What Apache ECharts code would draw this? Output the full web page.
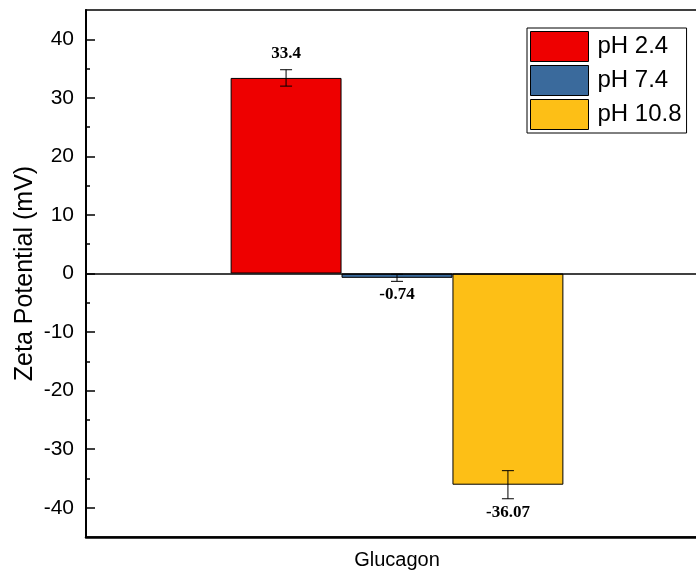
<!DOCTYPE html>
<html>
<head>
<meta charset="utf-8">
<script src="https://cdn.jsdelivr.net/npm/echarts@6/dist/echarts.min.js"></script>
<style>html,body{margin:0;padding:0;background:#fff}#c{width:696px;height:571px}</style>
</head>
<body>
<div id="c"></div>
<script>
var categories = ['Glucagon'];
var seriesNames = ['pH 2.4', 'pH 7.4', 'pH 10.8'];
var means = [33.4, -0.74, -36.07];
var errors = [1.4, 0.6, 2.4];
var colors = ['#ee0000', '#3a6a9c', '#fdbf16'];
var majorTicks = [-40, -30, -20, -10, 0, 10, 20, 30, 40];
var minorTicks = [-35, -25, -15, -5, 5, 15, 25, 35];

var GAP = 0.465;
var chart = echarts.init(document.getElementById('c'));

var series = seriesNames.map(function (name, i) {
  var s = {
    name: name,
    type: 'bar',
    data: [means[i]],
    barGap: '0%',
    barCategoryGap: (GAP * 100) + '%',
    itemStyle: { color: colors[i], borderColor: '#000', borderWidth: 1 },
    z: 2
  };
  if (i === 0) {
    s.markLine = {
      silent: true,
      symbol: 'none',
      label: { show: false },
      lineStyle: { color: '#000', width: 1.5, type: 'solid' },
      data: [{ yAxis: 0 }],
      z: 5
    };
  }
  return s;
});

var errData = means.map(function (m, i) { return [0, m, errors[i], i]; });
series.push({
  type: 'custom',
  name: 'err',
  data: errData,
  encode: { x: 0, y: 1 },
  z: 10,
  renderItem: function (params, api) {
    var val = api.value(1), err = api.value(2), idx = api.value(3);
    var catW = api.size([1, 0])[0];
    var barW = catW * (1 - GAP) / 3;
    var c = api.coord([0, val]);
    var cx = c[0] + (idx - 1) * barW;
    var yT = api.coord([0, val + err])[1];
    var yB = api.coord([0, val - err])[1];
    var cap = 6;
    var st = { stroke: '#000', lineWidth: 1 };
    var labelY = val >= 0 ? yT - 8 : yB + 5;
    return {
      type: 'group',
      children: [
        { type: 'line', shape: { x1: cx, y1: yT, x2: cx, y2: yB }, style: st },
        { type: 'line', shape: { x1: cx - cap, y1: yT, x2: cx + cap, y2: yT }, style: st },
        { type: 'line', shape: { x1: cx - cap, y1: yB, x2: cx + cap, y2: yB }, style: st },
        { type: 'text', style: {
            text: String(val), x: cx, y: labelY,
            align: 'center', verticalAlign: val >= 0 ? 'bottom' : 'top',
            font: 'bold 17px "Liberation Serif", "Times New Roman", serif', fill: '#000'
          } }
      ]
    };
  }
});

chart.setOption({
  animation: false,
  backgroundColor: '#fff',
  grid: { left: 86, top: 10, bottom: 34, right: -12, outerBoundsMode: 'none', containLabel: false,
          show: true, borderColor: '#000', borderWidth: 1.5, backgroundColor: 'transparent' },
  legend: {
    data: seriesNames,
    orient: 'vertical',
    left: 527, top: 28,
    padding: [3, 5, 3, 3],
    itemGap: 3,
    itemWidth: 58, itemHeight: 30,
    icon: 'rect',
    borderColor: '#000', borderWidth: 1,
    backgroundColor: '#fff',
    textStyle: { fontFamily: 'Liberation Sans, Arial, sans-serif', fontSize: 24, color: '#000', padding: [0, 0, 0, 4] },
    itemStyle: { borderColor: '#000', borderWidth: 1 }
  },
  xAxis: {
    type: 'category',
    data: categories,
    axisLine: { onZero: false, lineStyle: { color: '#000', width: 2.5 } },
    axisTick: { show: false },
    axisLabel: { fontFamily: 'Liberation Sans, Arial, sans-serif', fontSize: 20, color: '#000', margin: 13 },
    splitLine: { show: false }
  },
  yAxis: [{
    type: 'value',
    min: -45, max: 45,
    name: 'Zeta Potential (mV)',
    nameLocation: 'middle',
    nameGap: 48,
    nameMoveOverlap: false,
    nameTextStyle: { fontFamily: 'Liberation Sans, Arial, sans-serif', fontSize: 25, color: '#000' },
    axisLine: { show: true, lineStyle: { color: '#000', width: 2 } },
    axisTick: { show: true, inside: true, length: 9, customValues: majorTicks, lineStyle: { color: '#000', width: 1.5 } },
    axisLabel: { customValues: majorTicks, fontFamily: 'Liberation Sans, Arial, sans-serif', fontSize: 21, color: '#000', margin: 12 },
    splitLine: { show: false }
  }, {
    type: 'value',
    min: -45, max: 45,
    position: 'left',
    axisLine: { show: false },
    axisTick: { show: true, inside: true, length: 4, customValues: minorTicks, lineStyle: { color: '#000', width: 1.5 } },
    axisLabel: { show: false },
    splitLine: { show: false }
  }],
  series: series
});
</script>
</body>
</html>
